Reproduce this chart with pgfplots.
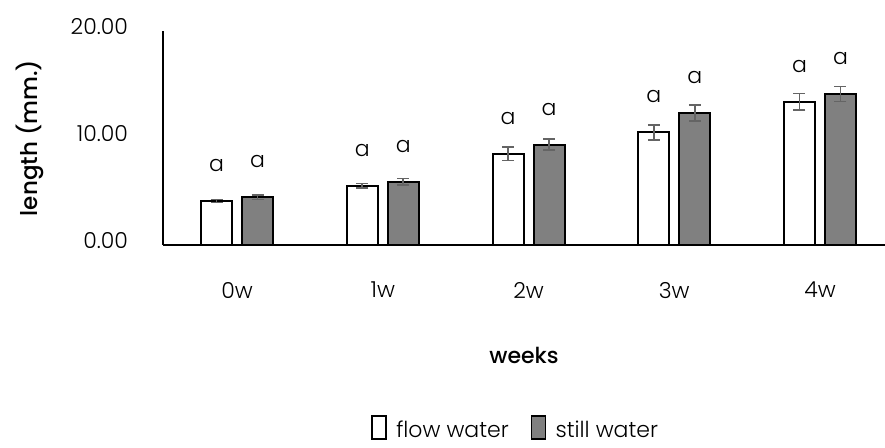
\documentclass[border=0pt]{standalone}
\usepackage{fontspec}
\setmainfont{Poppins}[UprightFont=* Light, BoldFont=* Medium]
\usepackage{pgfplots}
\pgfplotsset{compat=1.18}
\definecolor{barfill}{RGB}{128,128,128}
\definecolor{errcol}{RGB}{100,100,100}
\begin{document}
\begin{tikzpicture}
\useasboundingbox (-81.5pt,-101.5pt) rectangle (361pt,122.5pt);
\begin{axis}[
    at={(0,0)}, anchor=south west,
    scale only axis, width=361pt, height=107pt,
    font=\fontsize{11}{13}\selectfont,
    /pgf/number format/assume math mode=true,
    axis lines*=left,
    axis line style={line width=0.6pt},
    ybar=5pt, bar width=15.5pt,
    ymin=0, ymax=20, ytick={0,10,20},
    yticklabel style={xshift=-14pt, yshift=2pt, /pgf/number format/fixed,
        /pgf/number format/fixed zerofill, /pgf/number format/precision=2},
    xmin=-0.508, xmax=4.446,
    xtick={0,1,2,3,4}, xticklabels={0w,1w,2w,3w,4w},
    xticklabel style={yshift=-15pt},
    major tick length=0pt,
    xlabel={\bfseries weeks},
    ylabel={\bfseries length (mm.)},
    xlabel style={at={(axis description cs:0.5,-0.514)}, anchor=center},
    ylabel style={at={(axis description cs:-0.185,0.5)}, anchor=center, font=\fontsize{11.5}{13}\selectfont},
    nodes near coords={a},
    every node near coord/.append style={anchor=base, yshift=14.75pt, font=\fontsize{11}{13}\selectfont},
    legend style={at={(axis description cs:0.49,-0.864)}, anchor=center, draw=none,
        legend columns=2, font=\fontsize{11}{13}\selectfont,
        /tikz/every even column/.append style={column sep=9pt}},
    legend image code/.code={\draw[#1, line width=0.8pt] (0pt,-4pt) rectangle (7pt,7.5pt);
        \path[draw=none, fill=none] (0pt,0pt) -- (10pt,0pt);},
    error bars/y dir=both,
    error bars/y explicit,
    error bars/error bar style={line width=0.8pt, errcol},
    error bars/error mark options={rotate=90, mark size=3pt, line width=0.8pt, errcol},
]
\addplot[draw=black, fill=white, line width=1pt] coordinates {
    (0,4.11)  +- (0,0.14)
    (1,5.54)  +- (0,0.19)
    (2,8.53)  +- (0,0.65)
    (3,10.53) +- (0,0.70)
    (4,13.39) +- (0,0.75)
};
\addplot[draw=black, fill=barfill, line width=1pt] coordinates {
    (0,4.46)  +- (0,0.19)
    (1,5.92)  +- (0,0.31)
    (2,9.37)  +- (0,0.51)
    (3,12.34) +- (0,0.73)
    (4,14.11) +- (0,0.70)
};
\legend{flow water, still water}
\end{axis}
\end{tikzpicture}
\end{document}
